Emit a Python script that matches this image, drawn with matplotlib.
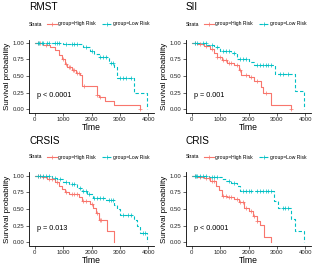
import numpy as np
import matplotlib
matplotlib.use('Agg')
import matplotlib.pyplot as plt
from matplotlib.lines import Line2D

plt.rcParams['font.family'] = ['Liberation Sans', 'DejaVu Sans']

# colours of the two strata
high_col = '#F8766D'
low_col = '#00BFC4'

titles = ['RMST', 'SII', 'CRSIS', 'CRIS']
pvals = ['p < 0.0001', 'p = 0.001', 'p = 0.013', 'p < 0.0001']
xticks = [0, 1000, 2000, 3000, 4000]
yticks = [0.0, 0.25, 0.5, 0.75, 1.0]
ytick_labels = ['0.00', '0.25', '0.50', '0.75', '1.00']

# RMST
rmst_high_t = [0, 300, 550, 700, 850, 950, 1050, 1150, 1300, 1450, 1600, 1680, 2180, 2250, 2470, 2780, 3700]
rmst_high_s = [1.0, 0.97, 0.93, 0.89, 0.82, 0.75, 0.68, 0.63, 0.59, 0.55, 0.51, 0.35, 0.22, 0.18, 0.12, 0.06, 0.0]
rmst_high_c = [100, 200, 400, 1000, 1100, 1200, 1250, 1350, 1400, 1500, 1550, 1750, 2200, 2300, 3700]
rmst_low_t = [0, 1000, 1700, 1950, 2100, 2250, 2600, 2800, 2880, 3500, 3950]
rmst_low_s = [1.0, 0.98, 0.94, 0.88, 0.83, 0.78, 0.70, 0.63, 0.47, 0.24, 0.0]
rmst_low_c = [100, 150, 250, 300, 450, 500, 700, 800, 850, 1100, 1300, 1400, 1500, 1800, 2000, 2300, 2400, 2500, 2700, 2750, 3000, 3100, 3200, 3400]

# SII
sii_high_t = [0, 200, 450, 650, 800, 900, 1050, 1250, 1500, 1650, 1750, 2000, 2200, 2450, 2520, 2780, 3480]
sii_high_s = [1.0, 0.98, 0.95, 0.91, 0.85, 0.79, 0.74, 0.70, 0.66, 0.59, 0.51, 0.49, 0.42, 0.34, 0.25, 0.07, 0.0]
sii_high_c = [100, 300, 500, 700, 900, 1000, 1100, 1200, 1300, 1400, 1600, 1700, 1900, 2100, 2300, 2600, 3480]
sii_low_t = [0, 300, 550, 800, 1000, 1400, 1600, 2000, 2200, 2950, 3650, 3950]
sii_low_s = [1.0, 0.99, 0.97, 0.93, 0.88, 0.84, 0.76, 0.71, 0.66, 0.53, 0.27, 0.0]
sii_low_c = [100, 200, 400, 500, 700, 900, 1100, 1200, 1300, 1500, 1700, 1800, 1900, 2300, 2400, 2500, 2600, 2700, 2800, 3100, 3200, 3400]

# CRSIS
crsis_high_t = [0, 250, 450, 700, 850, 950, 1050, 1200, 1550, 1650, 1950, 2050, 2150, 2250, 2550, 2780]
crsis_high_s = [1.0, 0.98, 0.95, 0.90, 0.85, 0.80, 0.75, 0.72, 0.68, 0.62, 0.58, 0.52, 0.44, 0.34, 0.17, 0.0]
crsis_high_c = [100, 200, 300, 500, 600, 800, 1100, 1300, 1400, 1500, 1700, 1800, 2000, 2200, 2300, 2350]
crsis_low_t = [0, 350, 600, 800, 1000, 1200, 1500, 1650, 1850, 2050, 2500, 2800, 2900, 3000, 3500, 3600, 3700, 3950]
crsis_low_s = [1.0, 0.99, 0.97, 0.95, 0.91, 0.87, 0.82, 0.77, 0.72, 0.67, 0.63, 0.56, 0.50, 0.41, 0.33, 0.25, 0.14, 0.0]
crsis_low_c = [100, 200, 300, 400, 500, 700, 900, 1100, 1300, 1400, 1600, 1700, 1800, 1900, 2100, 2200, 2300, 2400, 2600, 2700, 2750, 3100, 3300, 3400, 3800, 3900]

# CRIS
cris_high_t = [0, 200, 450, 650, 850, 950, 1050, 1250, 1500, 1650, 1850, 2000, 2150, 2300, 2400, 2550, 2800]
cris_high_s = [1.0, 0.98, 0.96, 0.92, 0.85, 0.78, 0.70, 0.68, 0.65, 0.60, 0.52, 0.47, 0.40, 0.32, 0.26, 0.08, 0.0]
cris_high_c = [100, 300, 500, 600, 700, 800, 1100, 1200, 1300, 1400, 1600, 1700, 1800, 1900, 2100, 2200, 2300]
cris_low_t = [0, 600, 1050, 1200, 1400, 1600, 1700, 2900, 3050, 3480, 3620, 3970]
cris_low_s = [1.0, 0.98, 0.95, 0.92, 0.89, 0.84, 0.77, 0.62, 0.52, 0.35, 0.17, 0.0]
cris_low_c = [100, 150, 200, 300, 400, 500, 700, 800, 900, 1300, 1500, 1800, 1900, 2000, 2100, 2300, 2400, 2500, 2600, 2700, 2800, 3200, 3300, 3400]

panels = [
    (rmst_high_t, rmst_high_s, rmst_high_c, rmst_low_t, rmst_low_s, rmst_low_c),
    (sii_high_t, sii_high_s, sii_high_c, sii_low_t, sii_low_s, sii_low_c),
    (crsis_high_t, crsis_high_s, crsis_high_c, crsis_low_t, crsis_low_s, crsis_low_c),
    (cris_high_t, cris_high_s, cris_high_c, cris_low_t, cris_low_s, cris_low_c),
]


def surv_at(times, surv, t):
    idx = np.searchsorted(times, t, side='right') - 1
    return np.asarray(surv)[idx]


W, H = 315, 268
fig = plt.figure(figsize=(W / 100, H / 100), dpi=100)

# axes boxes in pixels: left, top of panel
boxes = [(29, 39.5), (186, 39.5), (29, 172.5), (186, 172.5)]
aw, ah = 125, 73

for k, (box, data) in enumerate(zip(boxes, panels)):
    lx, ty = box
    ax = fig.add_axes([lx / W, 1 - (ty + ah) / H, aw / W, ah / H])
    ht, hs, hc, lt, ls, lc = data
    ax.step(ht, hs, where='post', color=high_col, lw=0.8)
    ax.step(lt, ls, where='post', color=low_col, lw=0.8, ls=(0, (3, 2)))
    ax.plot(hc, surv_at(ht, hs, hc), '+', color=high_col, ms=3, mew=0.5)
    ax.plot(lc, surv_at(lt, ls, lc), '+', color=low_col, ms=3, mew=0.5)
    ax.text(80, 0.2, pvals[k], fontsize=5.2, va='center', ha='left')

    ax.set_xlim(-200, 4200)
    ax.set_ylim(-0.05, 1.05)
    ax.set_xticks(xticks)
    ax.set_yticks(yticks)
    ax.set_yticklabels(ytick_labels)
    ax.tick_params(labelsize=4.3, length=2, width=0.5, pad=1.5, colors='#222222')
    for sp in ['top', 'right']:
        ax.spines[sp].set_visible(False)
    for sp in ['left', 'bottom']:
        ax.spines[sp].set_linewidth(0.6)
    ax.set_xlabel('Time', fontsize=6.2, labelpad=0.5)
    ax.set_ylabel('Survival probability', fontsize=5.8, labelpad=1)

    # title and legend above the panel
    fig.text(lx / W, 1 - (ty - 32) / H, titles[k], fontsize=7.2, va='center', ha='left')
    ly = 1 - (ty - 15.5) / H
    fig.text(lx / W, ly, 'Strata', fontsize=3.6, va='center', ha='left')
    for x0, col, lab, style in [(lx + 18, high_col, 'group=High Risk', '-'),
                                (lx + 73, low_col, 'group=Low Risk', (0, (3, 2)))]:
        fig.add_artist(Line2D([x0 / W, (x0 + 10) / W], [ly, ly], color=col, lw=0.8,
                              ls=style, transform=fig.transFigure))
        fig.add_artist(Line2D([(x0 + 5) / W], [ly], color=col, marker='+', ms=3, mew=0.5,
                              transform=fig.transFigure))
        fig.text((x0 + 11) / W, ly, lab, fontsize=3.6, va='center', ha='left')

fig.savefig('out.png', dpi=100)
